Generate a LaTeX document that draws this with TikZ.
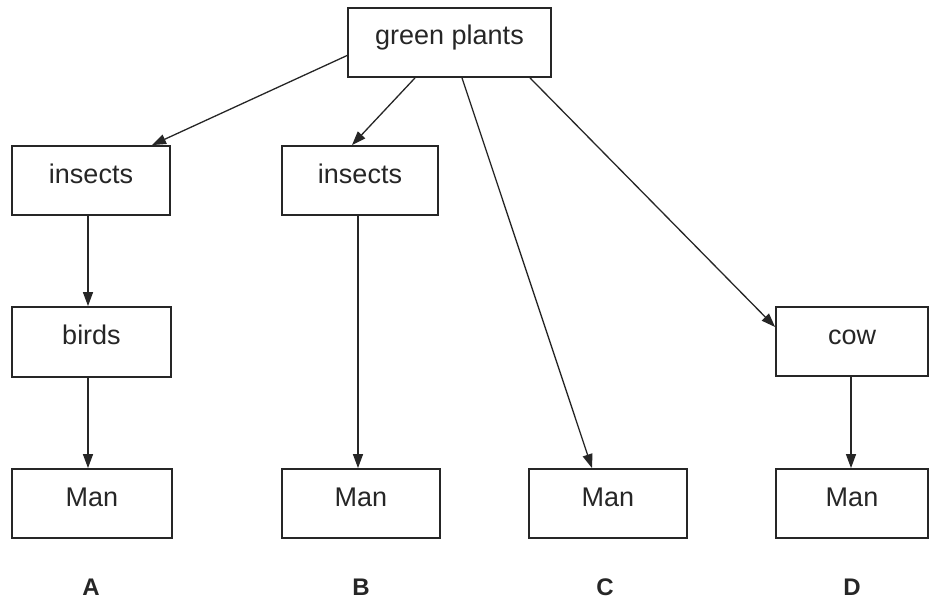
\documentclass[tikz,border=0pt]{standalone}
\usepackage{fontspec}
\setmainfont{Liberation Sans}
\usetikzlibrary{arrows.meta,calc}
\begin{document}
\begin{tikzpicture}[x=1pt,y=-1pt,
  box/.style={draw=black!85,line width=1.8pt,rectangle,inner sep=0pt,
    minimum height=69pt,text height=12pt,text depth=7pt,font=\fontsize{27}{30}\selectfont,text=black!85},
  arr/.style={draw=black!85,line width=1.3pt,-{Triangle[length=14pt,width=10pt]}},
  lab/.style={font=\fontsize{24}{28}\selectfont\bfseries,text=black!85}]
\useasboundingbox (0,0) rectangle (929,599);
\node[box,minimum width=203pt] (gp) at (449.5,42.5) {green plants};
\node[box,minimum width=158pt] (insA) at (91,180.5) {insects};
\node[box,minimum width=156pt] (insB) at (360,180.5) {insects};
\node[box,minimum width=159pt,minimum height=70pt] (birds) at (91.5,342) {birds};
\node[box,minimum width=152pt] (cow) at (852,341.5) {cow};
\node[box,minimum width=160pt] (manA) at (92,503.5) {Man};
\node[box,minimum width=158pt] (manB) at (361,503.5) {Man};
\node[box,minimum width=158pt] (manC) at (608,503.5) {Man};
\node[box,minimum width=152pt] (manD) at (852,503.5) {Man};
\node[lab] (lA) at (91,587) {A};
\node[lab] (lB) at (361,587) {B};
\node[lab] (lC) at (605,587) {C};
\node[lab] (lD) at (852,587) {D};
\draw[arr] ([yshift=-13pt]gp.west) -- ([xshift=61pt]insA.north);
\draw[arr] ([xshift=-34.5pt]gp.south) -- ([xshift=-8pt]insB.north);
\draw[arr] ([xshift=12.5pt]gp.south) -- ([xshift=-16pt]manC.north);
\draw[arr] ([xshift=80.5pt]gp.south) -- ([yshift=14.5pt]cow.west);
\draw[arr] ([xshift=-3pt]insA.south) -- ([xshift=-3pt]insA.south |- birds.north);
\draw[arr] ([xshift=-3.5pt]birds.south) -- ([xshift=-3.5pt]birds.south |- manA.north);
\draw[arr] ([xshift=-2pt]insB.south) -- ([xshift=-2pt]insB.south |- manB.north);
\draw[arr] ([xshift=-1pt]cow.south) -- ([xshift=-1pt]cow.south |- manD.north);
\end{tikzpicture}
\end{document}
